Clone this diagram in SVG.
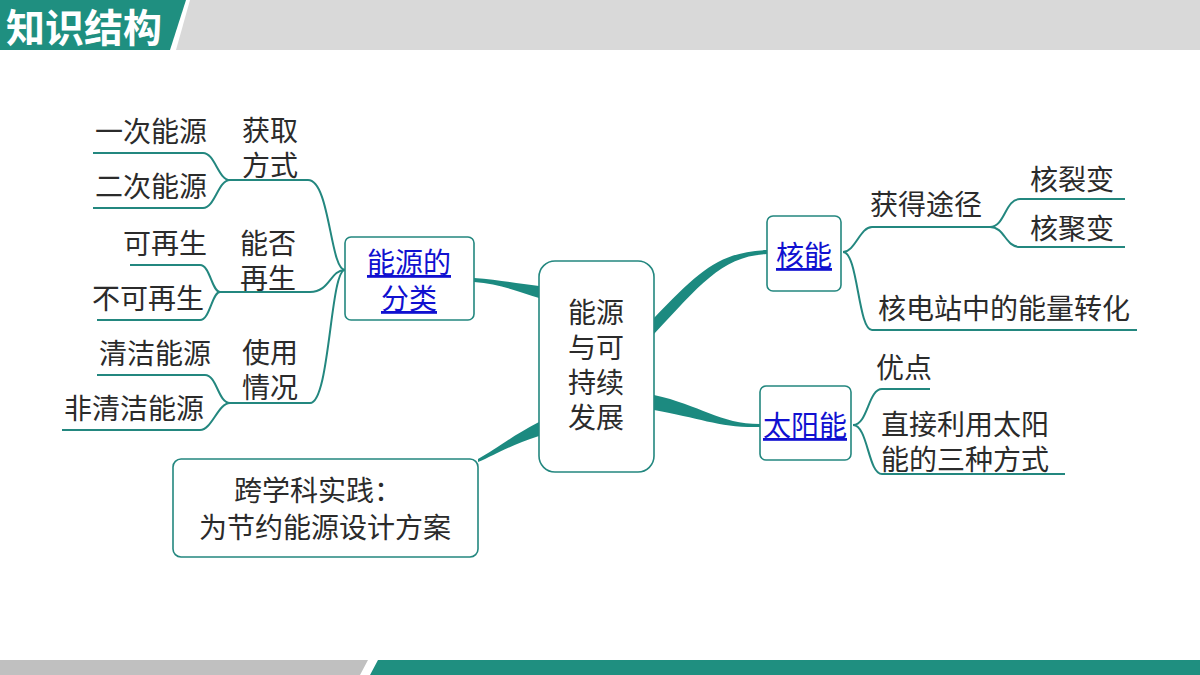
<svg xmlns="http://www.w3.org/2000/svg" width="1200" height="675" viewBox="0 0 1200 675">
<style>
.t{font-family:"Noto Sans CJK SC","Noto Sans",sans-serif;font-size:28px;fill:#2b2b2b}
.lk{font-family:"Noto Sans CJK SC","Noto Sans",sans-serif;font-size:28px;fill:#1010d0;text-decoration:underline}
.ln{fill:none;stroke:#23877f;stroke-width:2}
.bx{fill:#fff;stroke:#23877f;stroke-width:1.6}
.th{fill:#1c8a80}
</style>
<rect width="1200" height="675" fill="#fff"/>
<polygon points="0,0 186,0 170,50 0,50" fill="#1f8f80"/>
<polygon points="190,0 1200,0 1200,50 176,50" fill="#d9d9d9"/>
<text x="6" y="42" font-family="Noto Sans CJK SC,sans-serif" font-size="39" font-weight="bold" fill="#fff">知识结构</text>
<polygon points="0,660 368,660 360,675 0,675" fill="#c0c0c0"/>
<polygon points="378,660 1200,660 1200,675 370,675" fill="#1f8f80"/>
<g id="connectors">
<path class="th" d="M474,278 C500,280 520,284 539,286 L539,298 C520,292 500,284 474,282 Z"/>
<path class="th" d="M654,318 C700,270 720,252 767,250 L767,254 C722,256 700,285 654,334 Z"/>
<path class="th" d="M654,395 C700,405 720,424 760,424 L760,427 C720,428 700,418 654,410 Z"/>
<path class="th" d="M539,422 L539,436 C510,445 495,455 478,462 L478,459 C495,450 510,437 539,422 Z"/>
<path class="ln" d="M308,180 C330,180 330,270 345,270 M220,292 L310,292 C330,292 330,270 345,270 M310,403 C330,403 330,270 345,270 M230,180 L308,180"/>
<path class="ln" d="M93,153 L203,153 C215,153 218,180 230,180 C218,180 215,208 203,208 L93,208"/>
<path class="ln" d="M130,265 L200,265 C210,265 212,292 220,292 C212,292 210,320 200,320 L97,320"/>
<path class="ln" d="M230,403 L310,403 M97,375 L205,375 C217,375 218,403 230,403 C218,403 212,430 200,430 L62,430"/>
<path class="ln" d="M843,252 C855,252 860,227 872,227 L990,227 C1005,227 1005,199 1020,199 L1125,199 M990,227 C1005,227 1005,247 1020,247 L1125,247 M843,252 C858,252 858,330 872,330 L1137,330"/>
<path class="ln" d="M853,425 C868,425 868,389 882,389 L930,389 M853,425 C868,425 868,474 882,474 L1065,474"/>
</g>
<g id="center"><rect class="bx" x="539" y="261" width="115" height="211" rx="16" stroke-width="2.5"/>
<text class="t" x="596" y="323" text-anchor="middle">能源</text><text class="t" x="596" y="358" text-anchor="middle">与可</text><text class="t" x="596" y="393" text-anchor="middle">持续</text><text class="t" x="596" y="428" text-anchor="middle">发展</text></g>
<g id="fenlei"><rect class="bx" x="345" y="237" width="129" height="83" rx="6"/>
<text class="lk" x="409" y="273" text-anchor="middle">能源的</text><text class="lk" x="409" y="309" text-anchor="middle">分类</text></g>
<g id="huoqu"><text class="t" x="270" y="141" text-anchor="middle">获取</text><text class="t" x="270" y="176" text-anchor="middle">方式</text></g>
<g id="yici"><text class="t" x="207" y="142" text-anchor="end">一次能源</text></g>
<g id="erci"><text class="t" x="207" y="197" text-anchor="end">二次能源</text></g>
<g id="nengfou"><text class="t" x="268" y="254" text-anchor="middle">能否</text><text class="t" x="268" y="289" text-anchor="middle">再生</text></g>
<g id="kezs"><text class="t" x="207" y="254" text-anchor="end">可再生</text></g>
<g id="bukezs"><text class="t" x="204" y="309" text-anchor="end">不可再生</text></g>
<g id="shiyong"><text class="t" x="270" y="363" text-anchor="middle">使用</text><text class="t" x="270" y="398" text-anchor="middle">情况</text></g>
<g id="qingjie"><text class="t" x="211" y="364" text-anchor="end">清洁能源</text></g>
<g id="feiqingjie"><text class="t" x="204" y="419" text-anchor="end">非清洁能源</text></g>
<g id="kuaxueke"><rect class="bx" x="173" y="459" width="305" height="98" rx="8"/>
<text class="t" x="318" y="501" text-anchor="middle">跨学科实践：</text><text class="t" x="325" y="538" text-anchor="middle">为节约能源设计方案</text></g>
<g id="heneng"><rect class="bx" x="767" y="216" width="74" height="75" rx="6"/>
<text class="lk" x="804" y="266" text-anchor="middle">核能</text></g>
<g id="huode"><text class="t" x="926" y="215" text-anchor="middle">获得途径</text></g>
<g id="lie"><text class="t" x="1072" y="190" text-anchor="middle">核裂变</text></g>
<g id="ju"><text class="t" x="1072" y="239" text-anchor="middle">核聚变</text></g>
<g id="hedian"><text class="t" x="1004" y="319" text-anchor="middle">核电站中的能量转化</text></g>
<g id="taiyang"><rect class="bx" x="760" y="386" width="91" height="74" rx="6"/>
<text class="lk" x="805" y="436" text-anchor="middle">太阳能</text></g>
<g id="youdian"><text class="t" x="876" y="378">优点</text></g>
<g id="zhijie"><text class="t" x="881" y="435">直接利用太阳</text><text class="t" x="881" y="470">能的三种方式</text></g>
</svg>
